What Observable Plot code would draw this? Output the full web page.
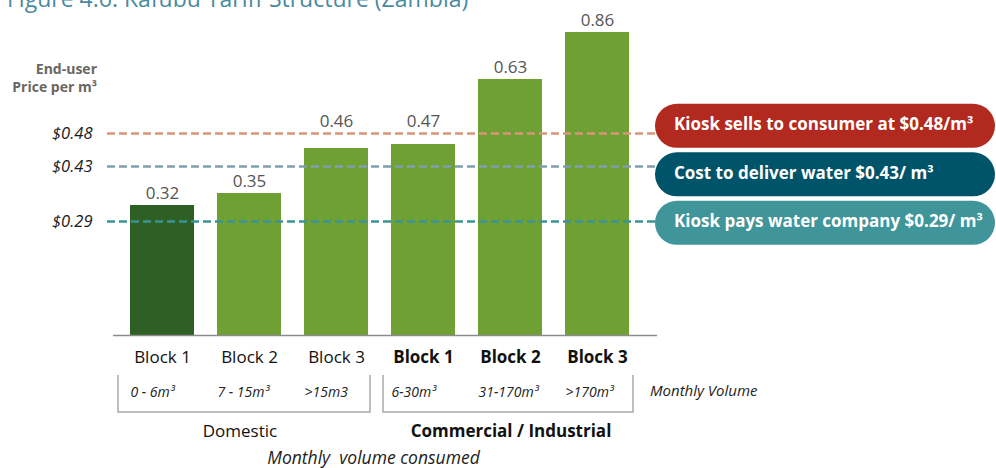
<!DOCTYPE html>
<html><head><meta charset="utf-8">
<script src="https://cdn.jsdelivr.net/npm/d3@7"></script>
<script src="https://cdn.jsdelivr.net/npm/@observablehq/plot@0.6"></script>
<style>
body{margin:0;background:#fff;}
#chart{position:relative;width:996px;height:468px;overflow:hidden}
</style></head><body><div id="chart"></div>
<script>
// ---- data ----
const blocks = ["D1","D2","D3","C1","C2","C3"];
const blockLabels = ["Block 1","Block 2","Block 3","Block 1","Block 2","Block 3"];
const segments = ["Domestic","Domestic","Domestic","Commercial","Commercial","Commercial"];
const prices = [0.32,0.35,0.46,0.47,0.63,0.86];
const volumes = ["0 - 6m³","7 - 15m³",">15m3","6-30m³","31-170m³",">170m³"];
const groupLabels = ["Domestic","Commercial / Industrial"];
const refValues = [0.48,0.43,0.29];
const refTickLabels = ["$0.48","$0.43","$0.29"];
const refLabels = ["Kiosk sells to consumer at $0.48/m³","Cost to deliver water $0.43/ m³","Kiosk pays water company $0.29/ m³"];
const title = "Figure 4.6: Kafubu Tariff Structure (Zambia)";
const yTitle = ["End-user","Price per m³"];
const xTitle = "Monthly  volume consumed";
const volumeTitle = "Monthly Volume";

// ---- styles ----
const FONT = '"Open Sans", sans-serif';
const refLineColors = ["#d9967a","#7f9fb1","#3a9497"];
const refPillColors = ["#b1291f","#00546a","#3f9599"];
const darkGreen = "#2e5f24", green = "#6fa033";

// The original figure is drawn not-to-scale: a piecewise warp of the price axis
const warp = d3.scaleLinear()
  .domain([0, 0.29, 0.32, 0.35, 0.43, 0.46, 0.47, 0.48, 0.63, 0.86])
  .range([0, 114, 130, 142, 169, 187, 191, 202, 256, 303]);

const bars = blocks.map((b,i)=>({block:b, label:blockLabels[i], segment:segments[i], price:prices[i], volume:volumes[i]}));
const refs = refValues.map((v,i)=>({value:v, tick:refTickLabels[i], label:refLabels[i], line:refLineColors[i], pill:refPillColors[i]}));

function annotations(index, scales, values, dimensions) {
  const x = scales.x, y = scales.y;
  const bw = x.bandwidth();
  const y0 = y(warp(0));
  const g = d3.create("svg:g").attr("font-family", FONT).attr("text-anchor", "start");
  // title (clipped at top)
  g.append("text").attr("x",7).attr("y",7).attr("font-size",23).attr("fill","#4a8aa0").text(title);
  // y title
  yTitle.forEach((t,i)=>{
    g.append("text").attr("x",97).attr("y",70+i*18).attr("text-anchor","end").attr("dominant-baseline","middle")
     .attr("font-size",14).attr("font-weight","bold").attr("fill","#6b6661").text(t);
  });
  // brackets
  const br = [
    {x1: x(blocks[0]) - 12, x2: x(blocks[2]) + bw + 2, label: groupLabels[0], weight: "normal", dx: -4},
    {x1: x(blocks[3]) - 8, x2: x(blocks[5]) + bw + 4, label: groupLabels[1], weight: "bold", dx: 3}
  ];
  br.forEach(b=>{
    g.append("path").attr("d",`M${b.x1},${y0+40}V${y0+77}H${b.x2}V${y0+40}`)
     .attr("fill","none").attr("stroke","#a8a8a8").attr("stroke-width",1.5);
    g.append("text").attr("x",(b.x1+b.x2)/2 + b.dx).attr("y",y0+97).attr("text-anchor","middle").attr("dominant-baseline","middle")
     .attr("font-size",17).attr("font-weight",b.weight).attr("fill","#111").text(b.label);
  });
  g.append("text").attr("x",(br[0].x1+br[1].x2)/2 - 2).attr("y",y0+124).attr("text-anchor","middle").attr("dominant-baseline","middle")
   .attr("font-size",17.5).attr("font-style","italic").attr("fill","#222").text(xTitle);
  g.append("text").attr("x",x(blocks[5])+bw+21).attr("y",y0+57).attr("dominant-baseline","middle")
   .attr("font-size",15).attr("font-style","italic").attr("fill","#222").text(volumeTitle);
  // pills
  const fx = dimensions.width - dimensions.marginRight;
  const ys = refs.map(r=>y(warp(r.value)));
  const mean = d3.mean(ys);
  refs.forEach((r,i)=>{
    const cy = mean + 1 + (i-1)*48.5;
    g.append("rect").attr("x",fx).attr("y",cy-22).attr("width",dimensions.width-fx-1).attr("height",44).attr("rx",22).attr("fill",r.pill);
    g.append("text").attr("x",fx+19).attr("y",cy).attr("dominant-baseline","middle").attr("font-size",17).attr("font-weight","bold")
     .attr("fill","#fff").text(r.label);
  });
  return g.node();
}

const chart = Plot.plot({
  width: 996, height: 468,
  marginLeft: 107, marginRight: 341, marginTop: 0, marginBottom: 0,
  style: {fontFamily: FONT, background: "#fff"},
  x: {type: "band", domain: blocks, range: [128, 630], paddingInner: 0.27, paddingOuter: 0, axis: null},
  y: {type: "linear", transform: warp, domain: [0, 303], range: [335, 32], axis: null},
  color: {type: "identity"},
  marks: [
    Plot.barY(bars, {x: "block", y: "price", fill: d => d.block === blocks[0] ? darkGreen : green}),
    Plot.ruleY(refs, {y: "value", stroke: "line", strokeWidth: 2.5, strokeDasharray: "8,4"}),
    Plot.ruleY([0], {stroke: "#8c8c8c", strokeWidth: 1.5, insetLeft: 6, insetRight: -2}),
    Plot.text(refs, {y: "value", text: "tick", frameAnchor: "left", dx: -15, textAnchor: "end",
      fontSize: 16.5, fontStyle: "italic", fill: "#1a1a1a"}),
    Plot.text(bars, {x: "block", y: d => (d.price > refValues[1] && d.price < refValues[0]) ? refValues[0] : d.price,
      text: d => d.price.toFixed(2), dy: -12, fontSize: 17, fill: "#555"}),
    Plot.text(bars.filter(d => d.segment === "Domestic"), {x: "block", y: () => 0, text: "label", dy: 22, fontSize: 17, fill: "#111"}),
    Plot.text(bars.filter(d => d.segment !== "Domestic"), {x: "block", y: () => 0, text: "label", dy: 22, fontSize: 17, fontWeight: "bold", fill: "#111"}),
    Plot.text(bars, {x: "block", y: () => 0, text: "volume", dy: 57, dx: -32, textAnchor: "start", fontSize: 14, fontStyle: "italic", fill: "#222"}),
    annotations
  ]
});
document.getElementById("chart").appendChild(chart);
</script></body></html>
